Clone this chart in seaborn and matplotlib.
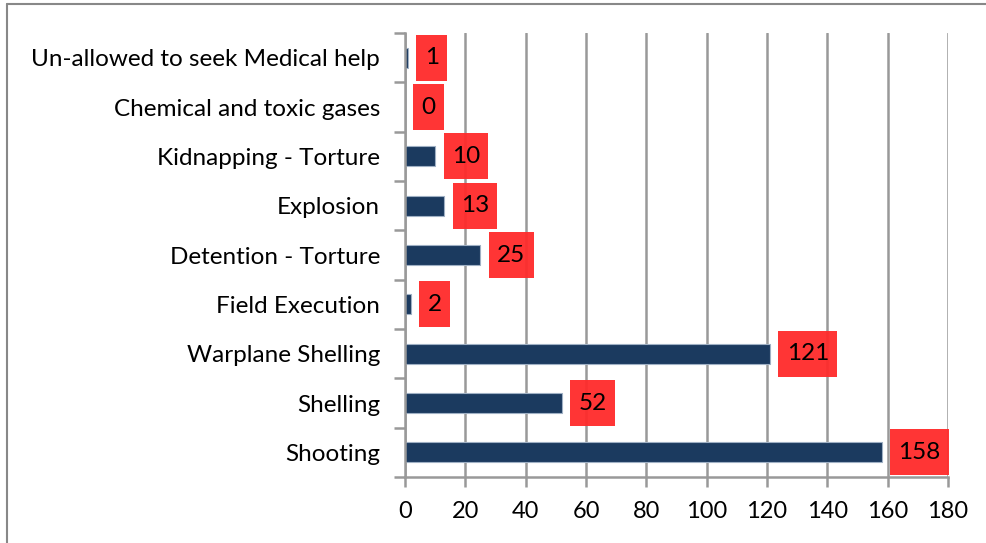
import matplotlib.pyplot as plt
import matplotlib.lines as mlines
import pandas as pd
import seaborn as sns

sns.set_theme(style="white")
plt.rcParams["font.family"] = ["Lato", "DejaVu Sans"]

# chart data, top to bottom
categories = [
    "Un-allowed to seek Medical help",
    "Chemical and toxic gases",
    "Kidnapping - Torture",
    "Explosion",
    "Detention - Torture",
    "Field Execution",
    "Warplane Shelling",
    "Shelling",
    "Shooting",
]
victims = [1, 0, 10, 13, 25, 2, 121, 52, 158]
x_ticks = [0, 20, 40, 60, 80, 100, 120, 140, 160, 180]

df = pd.DataFrame({"cause": categories, "count": victims})

fig = plt.figure(figsize=(9.87, 5.43), dpi=100)
ax = fig.add_axes([405 / 987, 1 - 477 / 543, 543 / 987, 444 / 543])

sns.barplot(
    data=df,
    x="count",
    y="cause",
    order=categories,
    color="#1B3A5F",
    width=0.4,
    edgecolor="#9fb0c4",
    linewidth=0.8,
    saturation=1,
    ax=ax,
)

# red value boxes (taller than wide padding, like the excel labels)
for cont in ax.containers:
    ax.bar_label(
        cont,
        labels=[str(v) for v in victims],
        padding=12,
        fontsize=17.5,
        color="black",
        bbox=dict(boxstyle="square,pad=0.34", mutation_aspect=1.5,
                  fc="#FF2A2A", ec="none", alpha=0.95),
    )

ax.set_xlim(0, 180)
ax.set_ylim(8.5, -0.5)
ax.set_xticks(x_ticks)
ax.set_xlabel("")
ax.set_ylabel("")

# vertical grid
ax.grid(axis="x", color="#999999", linewidth=1.8)
ax.set_axisbelow(True)

for s in ["top", "right"]:
    ax.spines[s].set_visible(False)
for s in ["left", "bottom"]:
    ax.spines[s].set_color("#999999")
    ax.spines[s].set_linewidth(1.8)

# excel-style ticks: x ticks downwards, y ticks at category boundaries
ax.tick_params(axis="x", direction="out", length=7, width=1.8, color="#999999",
               labelsize=17, labelcolor="black", pad=10, bottom=True)
ax.tick_params(axis="y", which="major", length=0, labelsize=17.5,
               labelcolor="black", pad=18)
ax.set_yticks([i - 0.5 for i in range(len(categories) + 1)], minor=True)
ax.tick_params(axis="y", which="minor", direction="out", length=8, width=1.8,
               color="#999999", left=True)

# figure frame (top and left edge)
fig.add_artist(mlines.Line2D([7 / 987, 1], [1 - 4 / 543, 1 - 4 / 543],
                             transform=fig.transFigure, color="#888888", linewidth=1.5))
fig.add_artist(mlines.Line2D([7 / 987, 7 / 987], [0, 1 - 4 / 543],
                             transform=fig.transFigure, color="#888888", linewidth=1.5))

fig.savefig("out.png", dpi=100)
